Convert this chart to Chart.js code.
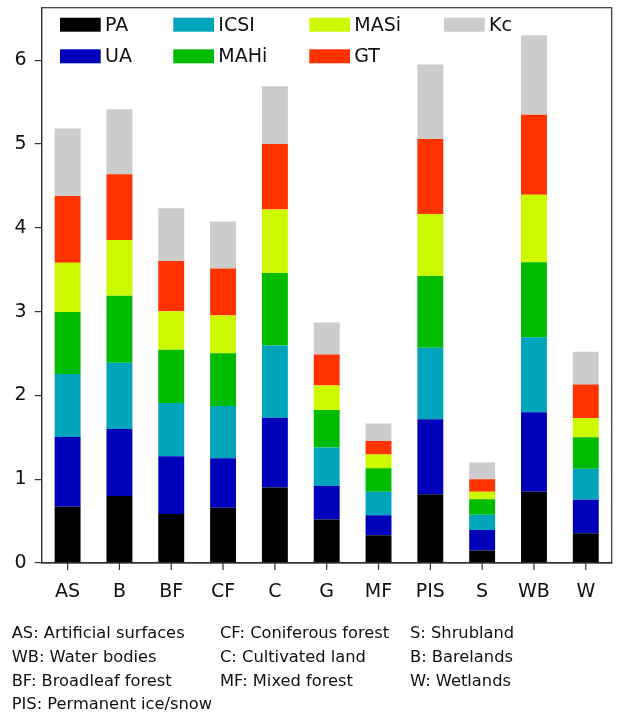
<!DOCTYPE html>
<html>
<head>
<meta charset="utf-8">
<script src="https://cdn.jsdelivr.net/npm/chart.js@4"></script>
<style>
  html, body { margin: 0; padding: 0; background: #fff; }
  #wrap { position: relative; width: 617px; height: 713px; overflow: hidden; }
  #c { position: absolute; left: 0; top: 0; }
  .fn { position: absolute; font-family: 'DejaVu Sans', sans-serif; font-size: 16.3px; line-height: 16.3px; color: #111; white-space: nowrap; }
</style>
</head>
<body>
<div id="wrap">
  <canvas id="c" width="617" height="713"></canvas>
  <div id="notes"></div>
</div>
<script>
const categories = ['AS', 'B', 'BF', 'CF', 'C', 'G', 'MF', 'PIS', 'S', 'WB', 'W'];
const seriesNames = ['PA', 'UA', 'ICSI', 'MAHi', 'MASi', 'GT', 'Kc'];
const PA   = [0.67, 0.80, 0.585, 0.66, 0.90, 0.52, 0.33, 0.82, 0.15, 0.85, 0.355];
const UA   = [0.835, 0.80, 0.69, 0.59, 0.835, 0.40, 0.24, 0.895, 0.245, 0.95, 0.40];
const ICSI = [0.75, 0.79, 0.635, 0.625, 0.86, 0.46, 0.28, 0.855, 0.18, 0.895, 0.37];
const MAHi = [0.74, 0.80, 0.635, 0.63, 0.865, 0.445, 0.28, 0.855, 0.185, 0.895, 0.375];
const MASi = [0.59, 0.665, 0.46, 0.45, 0.76, 0.295, 0.165, 0.74, 0.09, 0.805, 0.23];
const GT   = [0.795, 0.785, 0.60, 0.56, 0.78, 0.37, 0.16, 0.895, 0.15, 0.955, 0.40];
const Kc   = [0.805, 0.775, 0.63, 0.56, 0.69, 0.38, 0.21, 0.89, 0.20, 0.95, 0.39];
const seriesValues = [PA, UA, ICSI, MAHi, MASi, GT, Kc];
const seriesColors = ['#000000', '#0000bb', '#00a4bb', '#00bb00', '#ccf900', '#ff3300', '#cccccc'];
const yTicks = [0, 1, 2, 3, 4, 5, 6];
const noteColumns = [
  ['AS: Artificial surfaces', 'WB: Water bodies', 'BF: Broadleaf forest', 'PIS: Permanent ice/snow'],
  ['CF: Coniferous forest', 'C: Cultivated land', 'MF: Mixed forest'],
  ['S: Shrubland', 'B: Barelands', 'W: Wetlands']
];

// footnote as HTML text
const noteX = [11.7, 220, 410];
const noteTop = [624.5, 648.7, 672.8, 696.4];
const notes = document.getElementById('notes');
noteColumns.forEach((col, ci) => {
  col.forEach((t, ri) => {
    const d = document.createElement('div');
    d.className = 'fn';
    d.style.left = noteX[ci] + 'px';
    d.style.top = noteTop[ri] + 'px';
    d.textContent = t;
    notes.appendChild(d);
  });
});

const FONT = "'DejaVu Sans', sans-serif";
const AXIS = '#333333';

const framePlugin = {
  id: 'frame',
  afterDraw(chart) {
    const { ctx, chartArea: a } = chart;
    ctx.save();
    ctx.strokeStyle = AXIS;
    ctx.lineWidth = 1.2;
    ctx.strokeRect(a.left, a.top, a.right - a.left, a.bottom - a.top);
    // x tick marks at category centres
    const xs = chart.scales.x;
    ctx.beginPath();
    xs.ticks.forEach((t, i) => {
      const px = xs.getPixelForTick(i);
      ctx.moveTo(px, a.bottom);
      ctx.lineTo(px, a.bottom + 7);
    });
    ctx.stroke();
    ctx.restore();
  }
};

const legendPlugin = {
  id: 'mplLegend',
  afterDraw(chart) {
    const { ctx } = chart;
    const colX = [60, 173.3, 309.3, 444];
    const rowY = [24.7, 56.3];
    const boxW = 40.7, boxH = 14;
    ctx.save();
    ctx.font = '19px ' + FONT;
    ctx.textBaseline = 'middle';
    ctx.textAlign = 'left';
    chart.data.datasets.forEach((ds, i) => {
      const c = Math.floor(i / 2), r = i % 2;
      const x = colX[c], y = rowY[r];
      ctx.fillStyle = ds.backgroundColor;
      ctx.fillRect(x, y - boxH / 2, boxW, boxH);
      ctx.fillStyle = '#111';
      ctx.fillText(ds.label, x + boxW + 4.3, y + 1);
    });
    ctx.restore();
  }
};

new Chart(document.getElementById('c'), {
  type: 'bar',
  data: {
    labels: categories,
    datasets: seriesNames.map((n, i) => ({
      label: n,
      data: seriesValues[i],
      backgroundColor: seriesColors[i],
      borderWidth: 0,
      categoryPercentage: 1.0,
      barPercentage: 0.5
    }))
  },
  options: {
    responsive: false,
    animation: false,
    devicePixelRatio: 1,
    layout: { padding: { left: 0, right: 5.3, top: 7.7, bottom: 0 } },
    plugins: { legend: { display: false }, tooltip: { enabled: false } },
    scales: {
      x: {
        stacked: true,
        offset: true,
        grid: { display: true, offset: false, drawOnChartArea: false, drawTicks: true, tickLength: 7, color: 'rgba(0,0,0,0)', lineWidth: 1.2 },
        border: { display: true, color: AXIS, width: 1.2 },
        ticks: { color: '#111', font: { family: FONT, size: 19 }, padding: 11, maxRotation: 0, autoSkip: false },
        afterFit(scale) { scale.height = 150; scale.paddingLeft = 0; scale.paddingRight = 0; }
      },
      y: {
        stacked: true,
        min: 0,
        max: 6.628,
        afterBuildTicks(scale) { scale.ticks = yTicks.map(v => ({ value: v })); },
        grid: { display: true, drawOnChartArea: false, drawTicks: true, tickLength: 7, color: AXIS, lineWidth: 1.2 },
        border: { display: true, color: AXIS, width: 1.2 },
        ticks: { color: '#111', font: { family: FONT, size: 19 }, padding: 8, includeBounds: false },
        afterFit(scale) { scale.width = 41.7; scale.paddingTop = 0; scale.paddingBottom = 0; }
      }
    }
  },
  plugins: [framePlugin, legendPlugin]
});
</script>
</body>
</html>
